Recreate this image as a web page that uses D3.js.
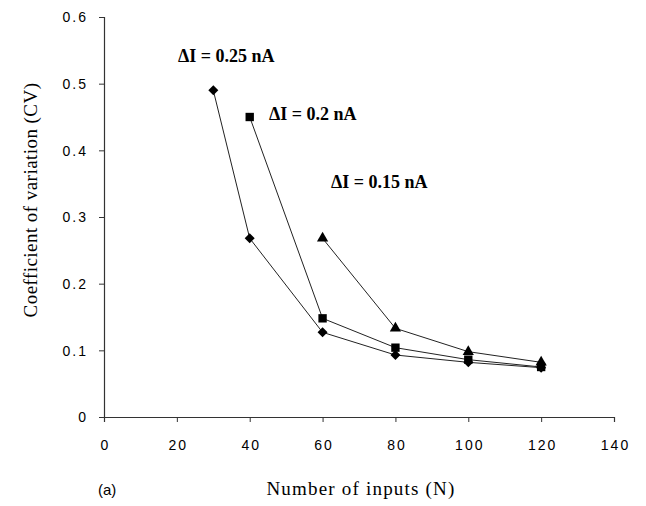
<!DOCTYPE html>
<html>
<head>
<meta charset="utf-8">
<script src="https://cdn.jsdelivr.net/npm/d3@7"></script>
<style>
  body { margin: 0; background: #fff; }
  svg { display: block; }
</style>
</head>
<body>
<svg id="chart" width="646" height="506"></svg>
<script>
// data
const xTicks = [0, 20, 40, 60, 80, 100, 120, 140];
const yTicks = [0, 0.1, 0.2, 0.3, 0.4, 0.5, 0.6];

const nDiamond = [30, 40, 60, 80, 100, 120];
const cvDiamond = [0.49, 0.268, 0.127, 0.093, 0.082, 0.074];

const nSquare = [40, 60, 80, 100, 120];
const cvSquare = [0.45, 0.148, 0.104, 0.086, 0.075];

const nTriangle = [60, 80, 100, 120];
const cvTriangle = [0.268, 0.133, 0.098, 0.082];

const seriesLabels = ["\u0394I = 0.25 nA", "\u0394I = 0.2 nA", "\u0394I = 0.15 nA"];

const svg = d3.select("#chart");

const x = d3.scaleLinear().domain([0, 140]).range([104, 614]);
const y = d3.scaleLinear().domain([0, 0.6]).range([417, 17]);

// axes
const xAxis = svg.append("g")
    .attr("transform", `translate(0,${y(0)})`)
    .call(d3.axisBottom(x).tickValues(xTicks).tickSize(5).tickPadding(18).tickFormat(d3.format("d")));

const yAxis = svg.append("g")
    .attr("transform", `translate(${x(0)},0)`)
    .call(d3.axisLeft(y).tickValues(yTicks).tickSize(5).tickPadding(11).tickFormat(d => d === 0 ? "0" : d3.format(".1f")(d)));

[xAxis, yAxis].forEach(g => {
    g.select(".domain").attr("stroke", "#333").attr("stroke-width", 1.2);
    g.selectAll(".tick line").attr("stroke", "#333");
    g.selectAll(".tick text")
        .attr("fill", "#000")
        .style("font-family", "Liberation Sans, Arial, sans-serif")
        .style("font-size", "14px")
        .style("letter-spacing", "2px");
});
yAxis.selectAll(".tick text").attr("dy", "0.35em");
xAxis.selectAll(".tick text").attr("dx", "1px");

// axis titles
svg.append("text")
    .attr("x", 361)
    .attr("y", 495)
    .attr("text-anchor", "middle")
    .style("font-family", "Liberation Serif, Times New Roman, serif")
    .style("font-size", "19px")
    .style("letter-spacing", "1.2px")
    .text("Number of inputs (N)");

svg.append("text")
    .attr("x", 98)
    .attr("y", 495)
    .style("font-family", "Liberation Sans, Arial, sans-serif")
    .style("font-size", "15px")
    .text("(a)");

svg.append("text")
    .attr("transform", "translate(37,200) rotate(-90)")
    .attr("text-anchor", "middle")
    .style("font-family", "Liberation Serif, Times New Roman, serif")
    .style("font-size", "19px")
    .style("letter-spacing", "0.45px")
    .text("Coefficient of variation (CV)");

// series
const series = [
    { n: nDiamond, cv: cvDiamond, shape: d3.symbolSquare, size: 50, rot: 45 },
    { n: nSquare, cv: cvSquare, shape: d3.symbolSquare, size: 70, rot: 0 },
    { n: nTriangle, cv: cvTriangle, shape: d3.symbolTriangle, size: 55, rot: 0 }
];

const line = d3.line().x(d => x(d[0])).y(d => y(d[1]));

series.forEach(s => {
    const pts = s.n.map((v, i) => [v, s.cv[i]]);
    svg.append("path")
        .datum(pts)
        .attr("fill", "none")
        .attr("stroke", "#222")
        .attr("stroke-width", 1)
        .attr("d", line);
    svg.append("g")
        .selectAll("path")
        .data(pts)
        .join("path")
        .attr("transform", d => `translate(${x(d[0])},${y(d[1])}) rotate(${s.rot})`)
        .attr("d", d3.symbol().type(s.shape).size(s.size))
        .attr("fill", "#000");
});

// series labels
const labelPos = [[178, 62], [269, 120], [331, 188]];
svg.append("g")
    .selectAll("text")
    .data(seriesLabels)
    .join("text")
    .attr("x", (d, i) => labelPos[i][0])
    .attr("y", (d, i) => labelPos[i][1])
    .style("font-family", "Liberation Serif, Times New Roman, serif")
    .style("font-weight", "bold")
    .style("font-size", "18px")
    .text(d => d);
</script>
</body>
</html>
